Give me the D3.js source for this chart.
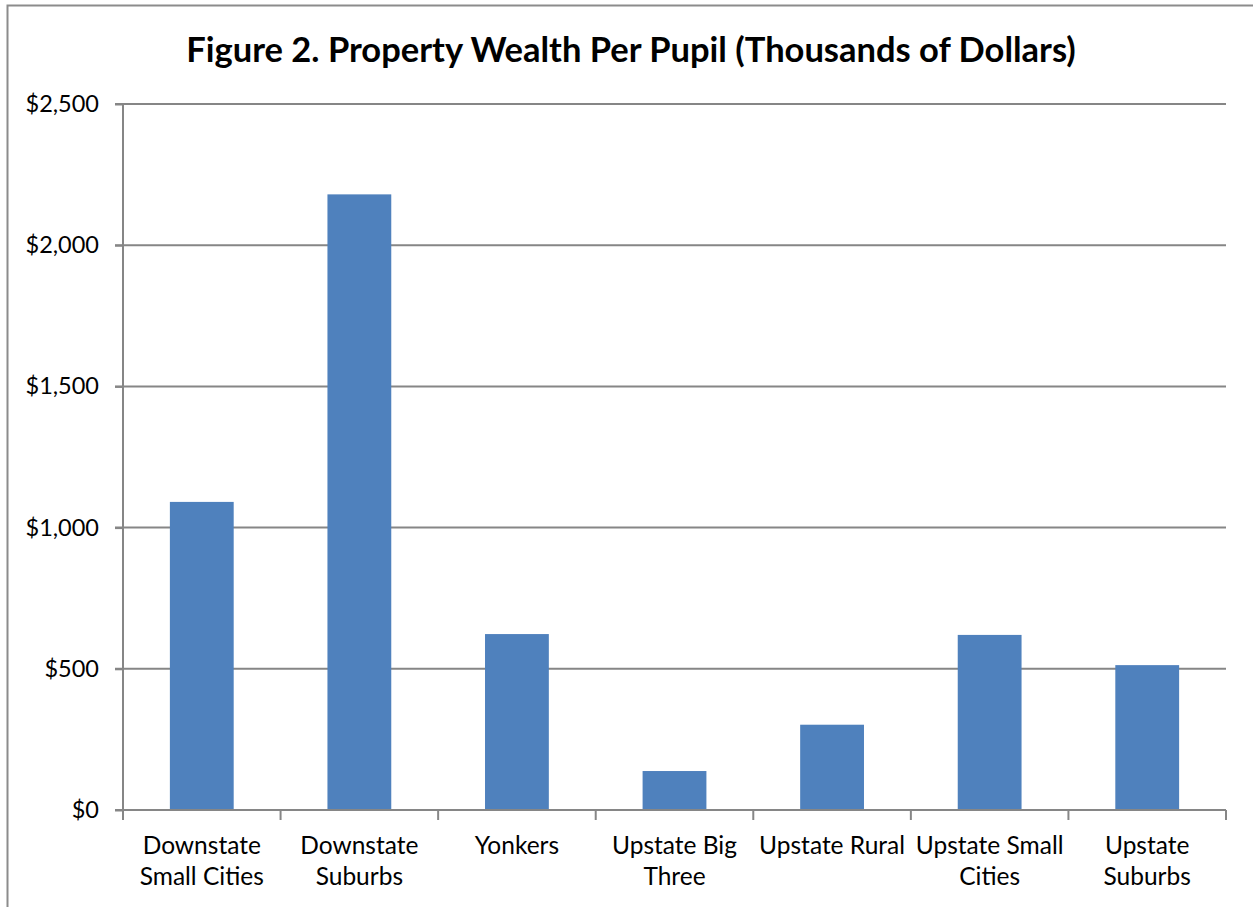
<!DOCTYPE html>
<html>
<head>
<meta charset="utf-8">
<script src="https://cdn.jsdelivr.net/npm/d3@7"></script>
<style>
  body { margin: 0; background: #fff; }
  text { font-family: Lato, "Open Sans", sans-serif; fill: #000; }
</style>
</head>
<body>
<div id="chart"></div>
<script>
var width = 1253,
    height = 907;

var categories = [
  ["Downstate", "Small Cities"],
  ["Downstate", "Suburbs"],
  ["Yonkers"],
  ["Upstate Big", "Three"],
  ["Upstate Rural"],
  ["Upstate Small", "Cities"],
  ["Upstate", "Suburbs"]
];
var values = [1091, 2180, 623, 138, 302, 620, 513];
var yTicks = [0, 500, 1000, 1500, 2000, 2500];

var margin = {top: 104, right: 27, bottom: 97, left: 123};

var svg = d3.select("#chart").append("svg")
    .attr("width", width)
    .attr("height", height);

// outer chart border
svg.append("rect")
    .attr("x", 7.5)
    .attr("y", 5.5)
    .attr("width", width)
    .attr("height", height)
    .attr("fill", "none")
    .attr("stroke", "#8c8c8c")
    .attr("stroke-width", 2);

svg.append("text")
    .attr("x", 631)
    .attr("y", 62)
    .attr("text-anchor", "middle")
    .style("font-size", "34.5px")
    .style("font-weight", "bold")
    .text("Figure 2. Property Wealth Per Pupil (Thousands of Dollars)");

var g = svg.append("g")
    .attr("transform", "translate(" + margin.left + "," + margin.top + ")");

var w = width - margin.left - margin.right,
    h = height - margin.top - margin.bottom;

var x = d3.scaleBand()
    .domain(d3.range(values.length))
    .range([0, w]);

var y = d3.scaleLinear()
    .domain([0, 2500])
    .range([h, 0]);

// gridlines
g.selectAll("line.grid")
    .data(yTicks.slice(1))
  .enter().append("line")
    .attr("class", "grid")
    .attr("x1", -8)
    .attr("x2", w)
    .attr("y1", function(d) { return y(d); })
    .attr("y2", function(d) { return y(d); })
    .attr("stroke", "#868686")
    .attr("stroke-width", 2);

// bars
var barW = x.bandwidth() * 0.405;
g.selectAll("rect.bar")
    .data(values)
  .enter().append("rect")
    .attr("class", "bar")
    .attr("x", function(d, i) { return x(i) + (x.bandwidth() - barW) / 2; })
    .attr("y", function(d) { return y(d); })
    .attr("width", barW)
    .attr("height", function(d) { return h - y(d); })
    .attr("fill", "#4f81bd");

// y axis
var yAxis = g.append("g")
    .call(d3.axisLeft(y).tickValues(yTicks).tickSize(8).tickPadding(16)
      .tickFormat(function(d) { return "$" + d3.format(",")(d); }));
yAxis.select(".domain").attr("stroke", "#868686").attr("stroke-width", 2).attr("d", "M0," + (h + 0.5) + "V0");
yAxis.selectAll(".tick line").attr("stroke", "#868686").attr("stroke-width", 2);
yAxis.selectAll(".tick text").style("font-size", "23.5px").style("font-family", "Lato, sans-serif").attr("fill", "#000");

// x axis
var xAxis = g.append("g")
    .attr("transform", "translate(0," + h + ")");
xAxis.append("line")
    .attr("x1", -8).attr("x2", w)
    .attr("stroke", "#868686").attr("stroke-width", 2);
xAxis.selectAll("line.tick")
    .data(d3.range(values.length + 1))
  .enter().append("line")
    .attr("class", "tick")
    .attr("x1", function(d) { return d < values.length ? x(d) : w; })
    .attr("x2", function(d) { return d < values.length ? x(d) : w; })
    .attr("y1", 0).attr("y2", 10)
    .attr("stroke", "#868686").attr("stroke-width", 2);

var labels = xAxis.selectAll("text.cat")
    .data(categories)
  .enter().append("text")
    .attr("class", "cat")
    .attr("text-anchor", "middle")
    .attr("x", function(d, i) { return x(i) + x.bandwidth() / 2; })
    .attr("y", 44)
    .style("font-size", "24.5px");
labels.selectAll("tspan")
    .data(function(d) { return d; })
  .enter().append("tspan")
    .attr("x", function() { return d3.select(this.parentNode).attr("x"); })
    .attr("dy", function(d, i) { return i === 0 ? 0 : 31; })
    .text(function(d) { return d; });
</script>
</body>
</html>
